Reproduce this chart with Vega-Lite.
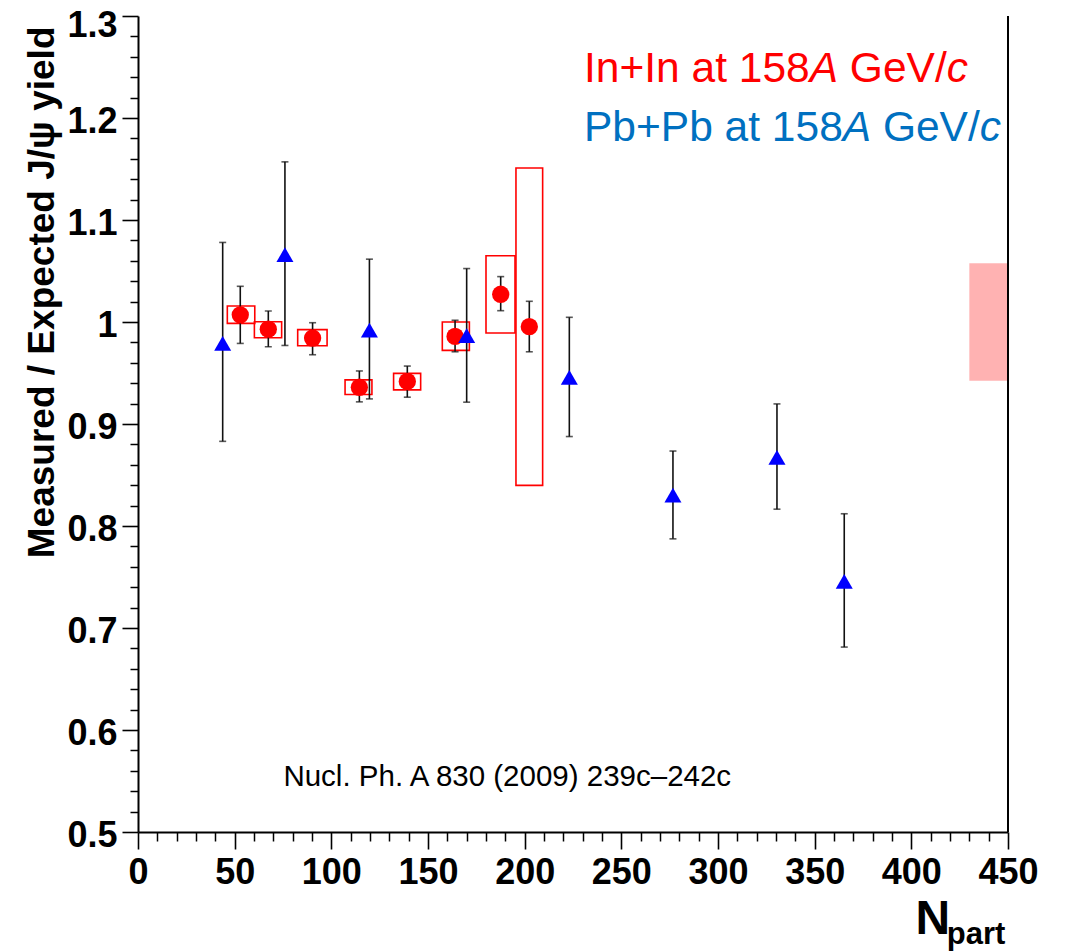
{
  "$schema": "https://vega.github.io/schema/vega-lite/v6.json",
  "width": 870,
  "height": 816,
  "autosize": {"type": "none"},
  "padding": {"left": 138, "top": 16, "right": 61, "bottom": 119},
  "background": "white",
  "config": {"view": {"stroke": null}, "font": "Liberation Sans"},
  "datasets": {
    "points": [
      {"series": "In+In", "Npart": 52.9, "yield": 1.007, "statLo": 0.979, "statHi": 1.035, "sysLo": 0.9987, "sysHi": 1.0157, "NpartLo": 46.2, "NpartHi": 60.4},
      {"series": "In+In", "Npart": 67.4, "yield": 0.993, "statLo": 0.9757, "statHi": 1.0108, "sysLo": 0.9846, "sysHi": 1.0003, "NpartLo": 60.2, "NpartHi": 74.3},
      {"series": "In+In", "Npart": 90.3, "yield": 0.9843, "statLo": 0.9679, "statHi": 0.9993, "sysLo": 0.9767, "sysHi": 0.9925, "NpartLo": 82.6, "NpartHi": 97.8},
      {"series": "In+In", "Npart": 114.5, "yield": 0.936, "statLo": 0.9217, "statHi": 0.952, "sysLo": 0.9289, "sysHi": 0.9433, "NpartLo": 107.1, "NpartHi": 121.0},
      {"series": "In+In", "Npart": 139.3, "yield": 0.9417, "statLo": 0.9263, "statHi": 0.9568, "sysLo": 0.9335, "sysHi": 0.9496, "NpartLo": 132.2, "NpartHi": 146.2},
      {"series": "In+In", "Npart": 164.0, "yield": 0.9859, "statLo": 0.9708, "statHi": 1.0017, "sysLo": 0.9722, "sysHi": 1.0, "NpartLo": 157.4, "NpartHi": 171.4},
      {"series": "In+In", "Npart": 187.6, "yield": 1.0272, "statLo": 1.0111, "statHi": 1.0445, "sysLo": 0.9892, "sysHi": 1.0649, "NpartLo": 180.0, "NpartHi": 195.0},
      {"series": "In+In", "Npart": 202.4, "yield": 0.9954, "statLo": 0.9708, "statHi": 1.0203, "sysLo": 0.8398, "sysHi": 1.151, "NpartLo": 195.5, "NpartHi": 209.3},
      {"series": "Pb+Pb", "Npart": 43.8, "yield": 0.979, "statLo": 0.883, "statHi": 1.078},
      {"series": "Pb+Pb", "Npart": 76.0, "yield": 1.066, "statLo": 0.977, "statHi": 1.157},
      {"series": "Pb+Pb", "Npart": 119.7, "yield": 0.992, "statLo": 0.9246, "statHi": 1.0616},
      {"series": "Pb+Pb", "Npart": 170.0, "yield": 0.9866, "statLo": 0.9214, "statHi": 1.0524},
      {"series": "Pb+Pb", "Npart": 223.1, "yield": 0.9456, "statLo": 0.8877, "statHi": 1.0046},
      {"series": "Pb+Pb", "Npart": 276.7, "yield": 0.8303, "statLo": 0.7874, "statHi": 0.8735},
      {"series": "Pb+Pb", "Npart": 330.5, "yield": 0.8673, "statLo": 0.8165, "statHi": 0.9197},
      {"series": "Pb+Pb", "Npart": 365.3, "yield": 0.7458, "statLo": 0.6813, "statHi": 0.812}
    ],
    "global": [
      {"NpartLo": 430, "NpartHi": 450, "lo": 0.9423, "hi": 1.0577}
    ],
    "labels": [
      {"group": "redNormal", "text": "In+In at 158", "Npart": 230.7, "yield": 1.2351},
      {"group": "redItalic", "text": "A", "Npart": 347.4, "yield": 1.2351},
      {"group": "redNormal", "text": "GeV/", "Npart": 368.2, "yield": 1.2351},
      {"group": "redItalic", "text": "c", "Npart": 418.3, "yield": 1.2351},
      {"group": "blueNormal", "text": "Pb+Pb at 158", "Npart": 230.7, "yield": 1.1773},
      {"group": "blueItalic", "text": "A", "Npart": 364.5, "yield": 1.1773},
      {"group": "blueNormal", "text": "GeV/", "Npart": 385.3, "yield": 1.1773},
      {"group": "blueItalic", "text": "c", "Npart": 435.4, "yield": 1.1773},
      {"group": "note", "text": "Nucl. Ph. A 830 (2009) 239c–242c", "Npart": 75.2, "yield": 0.5447},
      {"group": "sub", "text": "part", "Npart": 418.3, "yield": 0.3903}
    ]
  },
  "resolve": {"axis": {"x": "independent", "y": "independent"}},
  "layer": [
    {
      "data": {"name": "global"},
      "mark": {"type": "rect", "fill": "#ff0000", "fillOpacity": 0.3, "strokeWidth": 0},
      "encoding": {
        "x": {"field": "NpartLo", "type": "quantitative",
          "scale": {"domain": [0, 450], "nice": false, "zero": false},
          "axis": {"orient": "bottom", "values": [10,20,30,40,60,70,80,90,110,120,130,140,160,170,180,190,210,220,230,240,260,270,280,290,310,320,330,340,360,370,380,390,410,420,430,440],
            "labels": false, "domain": false, "grid": false, "title": null, "tickSize": 9, "tickColor": "black", "tickWidth": 1.5}},
        "x2": {"field": "NpartHi"},
        "y": {"field": "lo", "type": "quantitative",
          "scale": {"domain": [0.5, 1.3], "nice": false, "zero": false},
          "axis": {"orient": "left", "values": [0.52,0.54,0.56,0.58,0.62,0.64,0.66,0.68,0.72,0.74,0.76,0.78,0.82,0.84,0.86,0.88,0.92,0.94,0.96,0.98,1.02,1.04,1.06,1.08,1.12,1.14,1.16,1.18,1.22,1.24,1.26,1.28],
            "labels": false, "domain": false, "grid": false, "title": null, "tickSize": 8, "tickColor": "black", "tickWidth": 1.5}},
        "y2": {"field": "hi"}
      }
    },
    {
      "data": {"name": "points"},
      "transform": [{"filter": "datum.series === 'In+In'"}],
      "mark": {"type": "rect", "fillOpacity": 0, "fill": "white", "stroke": "#ff0000", "strokeWidth": 1.6},
      "encoding": {
        "x": {"field": "NpartLo", "type": "quantitative", "axis": null},
        "x2": {"field": "NpartHi"},
        "y": {"field": "sysLo", "type": "quantitative", "axis": null},
        "y2": {"field": "sysHi"}
      }
    },
    {
      "mark": {"type": "rule", "color": "#222222", "strokeWidth": 2},
      "encoding": {"y": {"datum": 1, "type": "quantitative", "axis": null}}
    },
    {
      "data": {"name": "global"},
      "mark": {"type": "rule", "color": "black", "strokeWidth": 2},
      "encoding": {
        "x": {"field": "NpartHi", "type": "quantitative", "axis": null},
        "y": {"datum": 0.5, "type": "quantitative", "axis": null},
        "y2": {"datum": 1.3}
      }
    },
    {
      "data": {"name": "points"},
      "mark": {"type": "rule", "color": "#111111", "strokeWidth": 1.6},
      "encoding": {
        "x": {"field": "Npart", "type": "quantitative", "axis": null},
        "y": {"field": "statLo", "type": "quantitative", "axis": null},
        "y2": {"field": "statHi"}
      }
    },
    {
      "data": {"name": "points"},
      "mark": {"type": "tick", "orient": "horizontal", "color": "#111111", "size": 7, "thickness": 1.6},
      "encoding": {
        "x": {"field": "Npart", "type": "quantitative", "axis": null},
        "y": {"field": "statLo", "type": "quantitative", "axis": null}
      }
    },
    {
      "data": {"name": "points"},
      "mark": {"type": "tick", "orient": "horizontal", "color": "#111111", "size": 7, "thickness": 1.6},
      "encoding": {
        "x": {"field": "Npart", "type": "quantitative", "axis": null},
        "y": {"field": "statHi", "type": "quantitative", "axis": null}
      }
    },
    {
      "data": {"name": "points"},
      "transform": [{"filter": "datum.series === 'In+In'"}],
      "mark": {"type": "point", "shape": "circle", "filled": true, "color": "#ff0000", "size": 300, "opacity": 1},
      "encoding": {
        "x": {"field": "Npart", "type": "quantitative",
          "axis": {"orient": "bottom", "values": [0,50,100,150,200,250,300,350,400,450], "grid": false,
            "tickSize": 17, "tickColor": "black", "tickWidth": 1.6, "domainColor": "black", "domainWidth": 2,
            "labelFont": "Liberation Sans", "labelFontSize": 36, "labelFontWeight": "bold", "labelColor": "black",
            "labelPadding": 6, "labelFlush": false, "labelOverlap": false,
            "title": "N", "titleFont": "Liberation Sans", "titleFontSize": 48, "titleFontWeight": "bold", "titleColor": "black",
            "titleX": 777, "titleY": 101, "titleAlign": "left", "titleBaseline": "alphabetic", "titleAngle": 0}},
        "y": {"field": "yield", "type": "quantitative",
          "axis": {"orient": "left", "values": [0.5,0.6,0.7,0.8,0.9,1,1.1,1.2,1.3], "format": "~g", "grid": false,
            "tickSize": 16, "tickColor": "black", "tickWidth": 1.6, "domainColor": "black", "domainWidth": 2,
            "labelFont": "Liberation Sans", "labelFontSize": 36, "labelFontWeight": "bold", "labelColor": "black",
            "labelPadding": 5, "labelFlush": false, "labelOverlap": false, "labelBaseline": "middle",
            "labelOffset": {"condition": {"test": "datum.value > 1.25", "value": 9}, "value": 3},
            "title": "Measured / Expected J/ψ yield", "titleFont": "Liberation Sans", "titleFontSize": 37, "titleFontWeight": "bold", "titleColor": "black",
            "titleAngle": -90, "titleX": -85, "titleY": 10, "titleAlign": "right", "titleBaseline": "alphabetic"}}
      }
    },
    {
      "data": {"name": "points"},
      "transform": [{"filter": "datum.series === 'Pb+Pb'"}],
      "mark": {"type": "point", "shape": "triangle-up", "filled": true, "color": "#0000ff", "size": 290, "opacity": 1},
      "encoding": {
        "x": {"field": "Npart", "type": "quantitative", "axis": null},
        "y": {"field": "yield", "type": "quantitative", "axis": null}
      }
    },
    {
      "data": {"name": "labels"},
      "transform": [{"filter": "datum.group === 'redNormal'"}],
      "mark": {"type": "text", "align": "left", "baseline": "alphabetic", "font": "Liberation Sans", "fontSize": 42.5, "color": "#ff0000"},
      "encoding": {
        "x": {"field": "Npart", "type": "quantitative", "axis": null},
        "y": {"field": "yield", "type": "quantitative", "axis": null},
        "text": {"field": "text"}
      }
    },
    {
      "data": {"name": "labels"},
      "transform": [{"filter": "datum.group === 'redItalic'"}],
      "mark": {"type": "text", "align": "left", "baseline": "alphabetic", "font": "Liberation Sans", "fontStyle": "italic", "fontSize": 42.5, "color": "#ff0000"},
      "encoding": {
        "x": {"field": "Npart", "type": "quantitative", "axis": null},
        "y": {"field": "yield", "type": "quantitative", "axis": null},
        "text": {"field": "text"}
      }
    },
    {
      "data": {"name": "labels"},
      "transform": [{"filter": "datum.group === 'blueNormal'"}],
      "mark": {"type": "text", "align": "left", "baseline": "alphabetic", "font": "Liberation Sans", "fontSize": 42.5, "color": "#0070c0"},
      "encoding": {
        "x": {"field": "Npart", "type": "quantitative", "axis": null},
        "y": {"field": "yield", "type": "quantitative", "axis": null},
        "text": {"field": "text"}
      }
    },
    {
      "data": {"name": "labels"},
      "transform": [{"filter": "datum.group === 'blueItalic'"}],
      "mark": {"type": "text", "align": "left", "baseline": "alphabetic", "font": "Liberation Sans", "fontStyle": "italic", "fontSize": 42.5, "color": "#0070c0"},
      "encoding": {
        "x": {"field": "Npart", "type": "quantitative", "axis": null},
        "y": {"field": "yield", "type": "quantitative", "axis": null},
        "text": {"field": "text"}
      }
    },
    {
      "data": {"name": "labels"},
      "transform": [{"filter": "datum.group === 'note'"}],
      "mark": {"type": "text", "align": "left", "baseline": "alphabetic", "font": "Liberation Sans", "fontSize": 29.5, "color": "black"},
      "encoding": {
        "x": {"field": "Npart", "type": "quantitative", "axis": null},
        "y": {"field": "yield", "type": "quantitative", "axis": null},
        "text": {"field": "text"}
      }
    },
    {
      "data": {"name": "labels"},
      "transform": [{"filter": "datum.group === 'sub'"}],
      "mark": {"type": "text", "align": "left", "baseline": "alphabetic", "font": "Liberation Sans", "fontWeight": "bold", "fontSize": 31, "color": "black"},
      "encoding": {
        "x": {"field": "Npart", "type": "quantitative", "axis": null},
        "y": {"field": "yield", "type": "quantitative", "axis": null},
        "text": {"field": "text"}
      }
    }
  ]
}
